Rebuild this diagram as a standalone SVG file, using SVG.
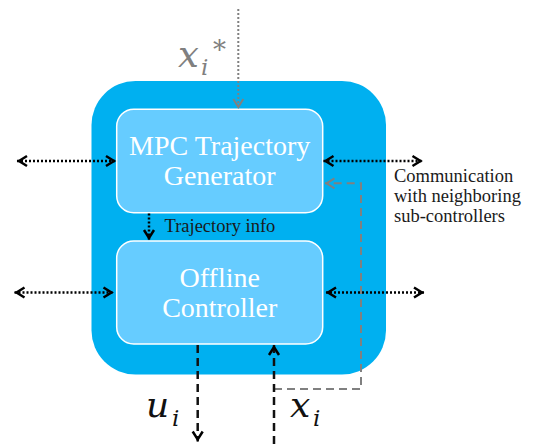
<svg xmlns="http://www.w3.org/2000/svg" width="536" height="444" viewBox="0 0 536 444">
<defs>
<style>
.outer{fill:#00b0f0}
.box{fill:#66ccff;stroke:#ffffff;stroke-width:1.5}
.title{font-family:'Liberation Serif','DejaVu Serif',serif;font-size:28px;fill:#ffffff;text-anchor:middle}
.small{font-family:'Liberation Serif','DejaVu Serif',serif;font-size:18.5px;fill:#1a1a1a}
.math{font-family:'DejaVu Serif',serif;font-style:italic}
.dotk{fill:none;stroke:#000;stroke-width:2.5;stroke-dasharray:2 2}
.dotg{fill:none;stroke:#808080;stroke-width:2;stroke-dasharray:2 2}
.dashk{fill:none;stroke:#111;stroke-width:2.5;stroke-dasharray:8 5}
.dashg{fill:none;stroke:#808080;stroke-width:2;stroke-dasharray:8 5}
</style>
<marker id="ak" markerUnits="userSpaceOnUse" viewBox="0 0 16 14" refX="13" refY="7" markerWidth="16" markerHeight="14" orient="auto-start-reverse" overflow="visible">
<path d="M3,2 L11,7 L3,12" fill="none" stroke="#000" stroke-width="2.5" stroke-dasharray="none"/>
</marker>
<marker id="ag" markerUnits="userSpaceOnUse" viewBox="0 0 16 14" refX="12.5" refY="7" markerWidth="16" markerHeight="14" orient="auto-start-reverse" overflow="visible">
<path d="M3,2 L11,7 L3,12" fill="none" stroke="#808080" stroke-width="2" stroke-dasharray="none"/>
</marker>
</defs>

<g id="container">
<rect class="outer" x="91.5" y="81" width="294.5" height="293.5" rx="44" ry="44"/>
</g>

<g id="mpc">
<rect class="box" x="116.7" y="109.3" width="206" height="103.4" rx="17" ry="17"/>
<text class="title" x="219.7" y="155">MPC Trajectory</text>
<text class="title" x="219.7" y="185">Generator</text>
</g>

<g id="offline">
<rect class="box" x="116.7" y="241" width="206" height="103" rx="17" ry="17"/>
<text class="title" x="219.7" y="287">Offline</text>
<text class="title" x="219.7" y="317">Controller</text>
</g>

<g id="connectors">
<path class="dotg" d="M238.3,9 L238.3,108.5" marker-end="url(#ag)"/>
<path class="dotk" d="M17,161 L116,161" marker-start="url(#ak)" marker-end="url(#ak)"/>
<path class="dotk" d="M323.5,161 L422.5,161" marker-start="url(#ak)" marker-end="url(#ak)"/>
<path class="dotk" d="M14.5,292.5 L113.5,292.5" marker-start="url(#ak)" marker-end="url(#ak)"/>
<path class="dotk" d="M326,292.5 L424,292.5" marker-start="url(#ak)" marker-end="url(#ak)"/>
<path class="dotk" d="M149,213.5 L149,240" marker-end="url(#ak)"/>
<path class="dashg" d="M274,389 L361,389 L361,183.3 L325,183.3" marker-end="url(#ag)"/>
<path class="dashk" d="M197.7,345 L197.7,441.5" marker-end="url(#ak)"/>
<path class="dashk" d="M274,444 L274,345" marker-end="url(#ak)"/>
</g>

<g id="labels">
<text class="small" x="164.5" y="231.5">Trajectory info</text>
<text class="small" x="394" y="182">Communication</text>
<text class="small" x="394" y="202">with neighboring</text>
<text class="small" x="394" y="222">sub-controllers</text>
<text class="math" fill="#808080"><tspan x="178" y="67" font-size="37">x</tspan><tspan x="201" y="75" font-size="23">i</tspan><tspan x="213" y="59" font-size="26">*</tspan></text>
<text class="math" fill="#111"><tspan x="146" y="417" font-size="36">u</tspan><tspan x="172" y="426" font-size="23">i</tspan></text>
<text class="math" fill="#111"><tspan x="290" y="417" font-size="36">x</tspan><tspan x="313" y="426" font-size="23">i</tspan></text>
</g>
</svg>
